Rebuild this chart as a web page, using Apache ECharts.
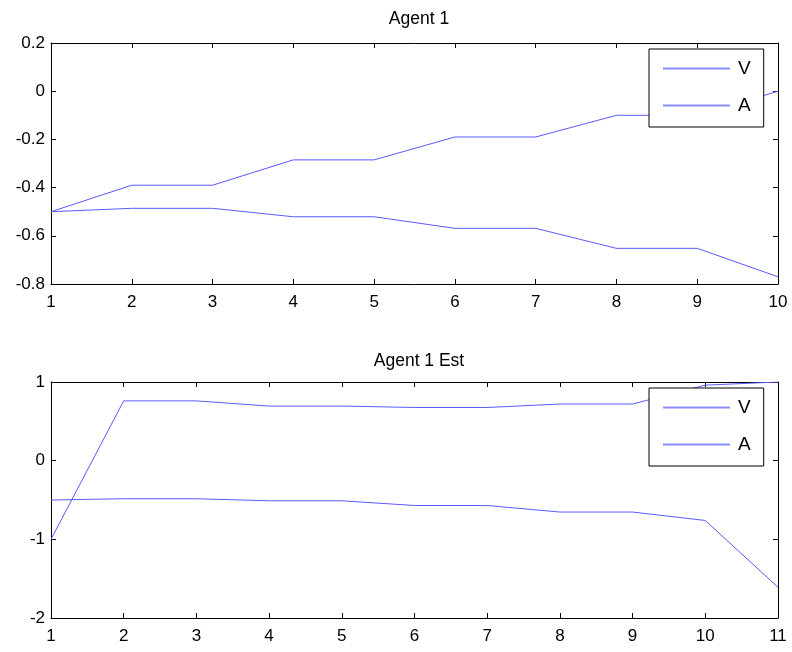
<!DOCTYPE html>
<html>
<head>
<meta charset="utf-8">
<script src="https://cdn.jsdelivr.net/npm/echarts@6/dist/echarts.min.js"></script>
<style>
  html, body { margin: 0; padding: 0; background: #fff; }
  #chart { width: 792px; height: 652px; }
</style>
</head>
<body>
<div id="chart"></div>
<script>
// top panel: Agent 1
const stepsTop = [1, 2, 3, 4, 5, 6, 7, 8, 9, 10];
const vTop = [-0.5, -0.39, -0.39, -0.285, -0.285, -0.19, -0.19, -0.1, -0.1, 0];
const aTop = [-0.5, -0.486, -0.486, -0.521, -0.521, -0.569, -0.569, -0.652, -0.652, -0.77];
const yTicksTop = [-0.8, -0.6, -0.4, -0.2, 0, 0.2];

// bottom panel: Agent 1 Est
const stepsBot = [1, 2, 3, 4, 5, 6, 7, 8, 9, 10, 11];
const vBot = [-1.0, 0.76, 0.76, 0.694, 0.694, 0.676, 0.676, 0.72, 0.72, 0.96, 1.0];
const aBot = [-0.5, -0.484, -0.484, -0.51, -0.51, -0.57, -0.57, -0.653, -0.653, -0.76, -1.61];
const yTicksBot = [-2, -1, 0, 1];

const lineColor = "#5a5aff";
const font = "Liberation Sans, Arial, sans-serif";

function pairs(xs, ys) {
  return xs.map(function (x, i) { return [x, ys[i]]; });
}

function xAxisPair(gridIndex, max) {
  const base = {
    type: "value",
    gridIndex: gridIndex,
    min: 1,
    max: max,
    interval: 1,
    splitLine: { show: false },
    axisLine: { show: true, onZero: false, lineStyle: { color: "#000", width: 1 } },
    axisTick: { show: true, inside: true, length: 5, lineStyle: { color: "#000" } },
  };
  return [
    Object.assign({}, base, {
      position: "bottom",
      axisLabel: { color: "#000", fontFamily: font, fontSize: 17, margin: 10 },
    }),
    Object.assign({}, base, { position: "top", axisLabel: { show: false } }),
  ];
}

function yAxisPair(gridIndex, ticks) {
  const step = +(ticks[1] - ticks[0]).toFixed(4);
  const base = {
    type: "value",
    gridIndex: gridIndex,
    min: ticks[0],
    max: ticks[ticks.length - 1],
    interval: step,
    splitLine: { show: false },
    axisLine: { show: true, onZero: false, lineStyle: { color: "#000", width: 1 } },
    axisTick: { show: true, inside: true, length: 5, lineStyle: { color: "#000" } },
  };
  return [
    Object.assign({}, base, {
      position: "left",
      axisLabel: {
        color: "#000", fontFamily: font, fontSize: 17, margin: 6,
        formatter: function (v) { return String(+v.toFixed(2)); },
      },
    }),
    Object.assign({}, base, { position: "right", axisLabel: { show: false } }),
  ];
}

function lineSeries(name, xi, yi, data) {
  return {
    name: name,
    type: "line",
    xAxisIndex: xi,
    yAxisIndex: yi,
    data: data,
    symbol: "none",
    silent: true,
    animation: false,
    clip: true,
    lineStyle: { color: lineColor, width: 1 },
    itemStyle: { color: lineColor },
  };
}

function legendBox(top) {
  return {
    left: 649,
    top: top,
    orient: "vertical",
    data: ["V", "A"],
    // plain horizontal stroke as the key, like the MATLAB legend
    icon: "rect",
    itemWidth: 67,
    itemHeight: 2,
    itemGap: 18,
    padding: [10, 13, 12, 14],
    backgroundColor: "#fff",
    borderColor: "#000",
    borderWidth: 1,
    borderRadius: 0,
    selectedMode: false,
    itemStyle: { color: "#8c8cff" },
    textStyle: { color: "#000", fontFamily: font, fontSize: 19, lineHeight: 15, padding: [0, 0, 0, 3] },
  };
}

const xTop = xAxisPair(0, 10);
const xBot = xAxisPair(1, 11);
const yTop = yAxisPair(0, yTicksTop);
const yBot = yAxisPair(1, yTicksBot);

const option = {
  backgroundColor: "#fff",
  title: [
    {
      text: "Agent 1", left: 414, top: 5, textAlign: "center",
      textStyle: { color: "#000", fontFamily: font, fontSize: 17.5, fontWeight: "normal" },
    },
    {
      text: "Agent 1 Est", left: 414, top: 347, textAlign: "center",
      textStyle: { color: "#000", fontFamily: font, fontSize: 17.5, fontWeight: "normal" },
    },
  ],
  legend: [legendBox(49), legendBox(388)],
  grid: [
    { left: 51, top: 43, width: 727, height: 241 },
    { left: 51, top: 382, width: 727, height: 236 },
  ],
  xAxis: [xTop[0], xTop[1], xBot[0], xBot[1]],
  yAxis: [yTop[0], yTop[1], yBot[0], yBot[1]],
  series: [
    lineSeries("V", 0, 0, pairs(stepsTop, vTop)),
    lineSeries("A", 0, 0, pairs(stepsTop, aTop)),
    lineSeries("V", 2, 2, pairs(stepsBot, vBot)),
    lineSeries("A", 2, 2, pairs(stepsBot, aBot)),
  ],
};

const chart = echarts.init(document.getElementById("chart"));
chart.setOption(option);
</script>
</body>
</html>
